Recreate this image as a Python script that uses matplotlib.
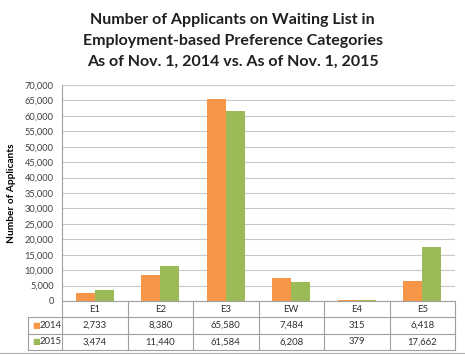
import matplotlib.pyplot as plt
import matplotlib.transforms as mtransforms
import numpy as np

categories = ['E1', 'E2', 'E3', 'EW', 'E4', 'E5']
series_names = ['2014', '2015']
vals_2014 = [2733, 8380, 65580, 7484, 315, 6418]
vals_2015 = [3474, 11440, 61584, 6208, 379, 17662]
colors = ['#F79646', '#9BBB59']

plt.rcParams['font.family'] = ['Lato', 'DejaVu Sans']

fig = plt.figure(figsize=(4.65, 3.55), dpi=100)
ax = fig.add_axes([62/465, 1-301/355, 393/465, 216/355])

x = np.arange(len(categories))
w = 0.29
ax.bar(x - w/2, vals_2014, w, color=colors[0], zorder=3)
ax.bar(x + w/2, vals_2015, w, color=colors[1], zorder=3)

ax.set_xlim(-0.5, len(categories) - 0.5)
ax.set_ylim(0, 70000)
ax.set_yticks(np.arange(0, 70001, 5000))
ax.set_yticklabels([f'{v:,}' for v in range(0, 70001, 5000)], fontsize=6.7, color='#404040')
ax.yaxis.grid(True, color='#C8C8C8', lw=0.8, zorder=0)
ax.tick_params(axis='y', length=0, pad=6)
ax.set_xticks([])
for s in ['top', 'right', 'bottom']:
    ax.spines[s].set_visible(False)
ax.spines['left'].set_color('#A0A0A0')
ax.spines['left'].set_linewidth(0.8)
ax.set_ylabel('Number of Applicants', fontsize=7.3, fontweight='bold', labelpad=6)

# data table below the axes
rh = 16.3 / 216
lc = '#A0A0A0'
tc = '#303030'
trans = mtransforms.blended_transform_factory(ax.transData, ax.transAxes)
left = -34 / 393
ax.plot([-0.5, len(categories) - 0.5], [0, 0], color=lc, lw=0.8, transform=trans, clip_on=False)
for k in [1, 2, 3]:
    ax.plot([left, 1], [-k*rh, -k*rh], color=lc, lw=0.8, transform=ax.transAxes, clip_on=False)
ax.plot([left, left], [-rh, -3*rh], color=lc, lw=0.8, transform=ax.transAxes, clip_on=False)
for b in np.arange(-0.5, len(categories), 1):
    ax.plot([b, b], [0, -3*rh], color=lc, lw=0.8, transform=trans, clip_on=False)

for i, c in enumerate(categories):
    ax.text(i, -0.5*rh, c, ha='center', va='center', fontsize=6.8, color=tc, transform=trans)
    ax.text(i, -1.5*rh, f'{vals_2014[i]:,}', ha='center', va='center', fontsize=6.8, color=tc, transform=trans)
    ax.text(i, -2.5*rh, f'{vals_2015[i]:,}', ha='center', va='center', fontsize=6.8, color=tc, transform=trans)

for k, (name, col) in enumerate(zip(series_names, colors)):
    yy = -(1.5 + k) * rh
    ax.text(left + 0.012, yy, '\u25A0', color=col, fontsize=6, ha='left', va='center',
            transform=ax.transAxes, family='DejaVu Sans')
    ax.text(left + 0.03, yy, name, color=tc, fontsize=6.8, ha='left', va='center',
            transform=ax.transAxes)

fig.text(0.5, 1 - 41/355, 'Number of Applicants on Waiting List in\nEmployment-based Preference Categories\nAs of Nov. 1, 2014 vs. As of Nov. 1, 2015',
         ha='center', va='center', fontsize=11.5, fontweight='bold', linespacing=1.6, color='#202020')

# bottom rule
fig.add_artist(plt.Line2D([0, 1], [1 - 353/355, 1 - 353/355], color='#B0B0B0', lw=0.8))

fig.savefig('out.png', dpi=100)
